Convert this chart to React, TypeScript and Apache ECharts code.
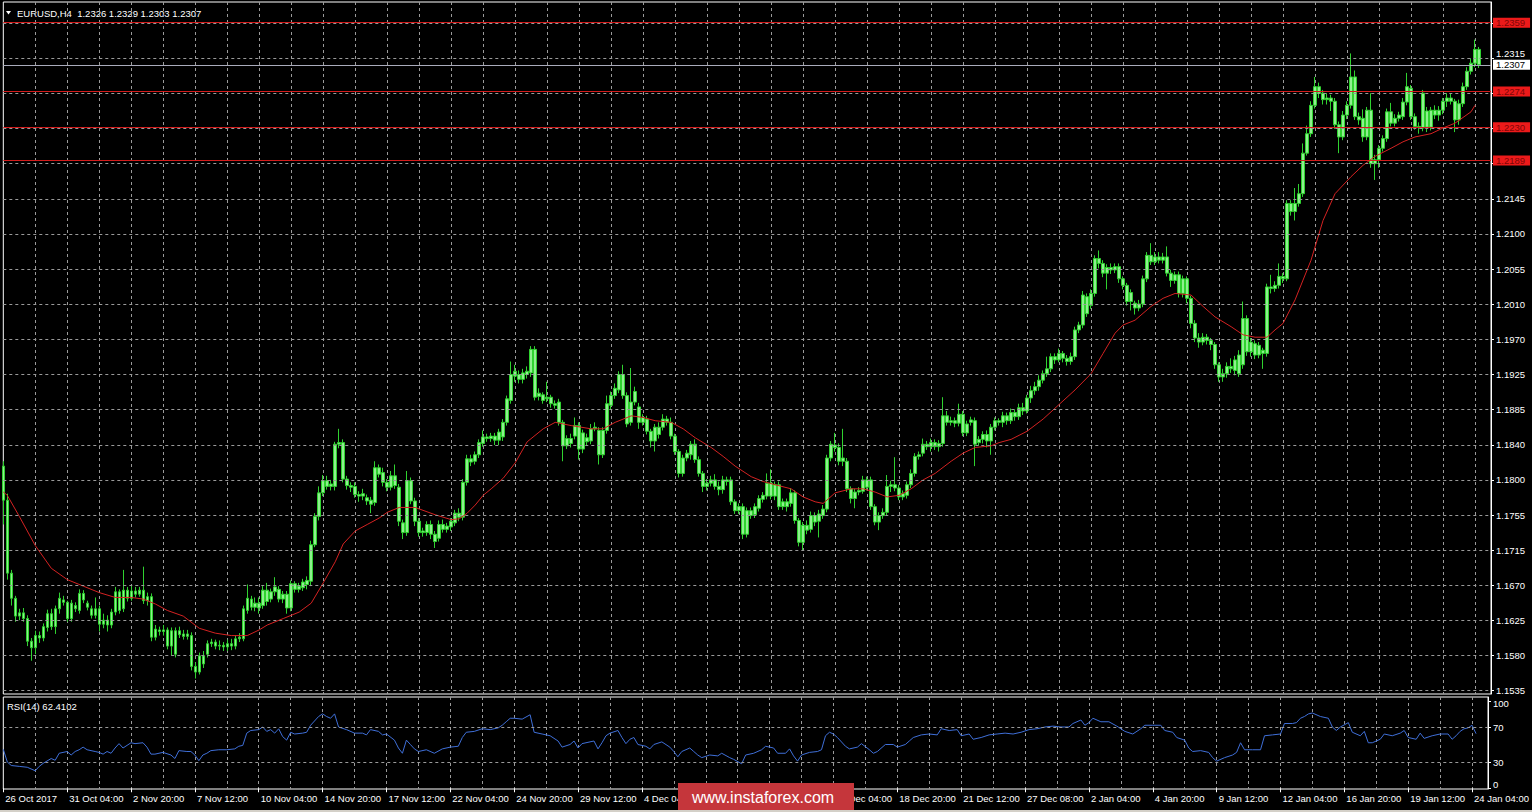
import { useEffect, useRef } from 'react';
import * as echarts from 'echarts';

// ---------- data ----------
const SYMBOL_HEADER = 'EURUSD,H4  1.2326 1.2329 1.2303 1.2307';
const RSI_HEADER = 'RSI(14) 62.4102';
const BASE = 1.1535; // bottom price grid line
const PRICE_STEP = 0.078 / 18;
const PRICE_TICK_LABELS = ['1.1535', '1.1580', '1.1625', '1.1670', '1.1715', '1.1755', '1.1800', '1.1840', '1.1885', '1.1925', '1.1970', '1.2010', '1.2055', '1.2100', '1.2145', '', '', '', '1.2315', ''];
const RSI_TICKS = [0, 30, 70, 100];
const RSI_LEVELS = [30, 70];
const LEVELS = [1.2359, 1.2274, 1.2230, 1.2189];
const LAST_PRICE = 1.2307;
// labels of 6 Dec 20:00 and 11 Dec 12:00 lie fully under the watermark in the reference
const X_TICK_LABELS = ['26 Oct 2017', '31 Oct 04:00', '2 Nov 20:00', '7 Nov 12:00', '10 Nov 04:00', '14 Nov 20:00', '17 Nov 12:00', '22 Nov 04:00', '24 Nov 20:00', '29 Nov 12:00', '4 Dec 04:00', '', '', '14 Dec 04:00', '18 Dec 20:00', '21 Dec 12:00', '27 Dec 08:00', '2 Jan 04:00', '4 Jan 20:00', '9 Jan 12:00', '12 Jan 04:00', '16 Jan 20:00', '19 Jan 12:00', '24 Jan 04:00'];

const OPEN = [
  1.1812, 1.1770, 1.1680, 1.1649, 1.1627, 1.1631, 1.1624, 1.1596, 1.1588, 1.1603,
  1.1600, 1.1613, 1.1630, 1.1614, 1.1636, 1.1647, 1.1644, 1.1624, 1.1640, 1.1634,
  1.1655, 1.1643, 1.1636, 1.1628, 1.1636, 1.1617, 1.1622, 1.1616, 1.1632, 1.1657,
  1.1636, 1.1659, 1.1649, 1.1658, 1.1654, 1.1659, 1.1646, 1.1651, 1.1601, 1.1610,
  1.1608, 1.1610, 1.1590, 1.1609, 1.1604, 1.1605, 1.1602, 1.1603, 1.1565, 1.1558,
  1.1578, 1.1580, 1.1593, 1.1595, 1.1590, 1.1591, 1.1589, 1.1593, 1.1590, 1.1599,
  1.1599, 1.1634, 1.1648, 1.1638, 1.1643, 1.1640, 1.1659, 1.1648, 1.1657, 1.1660,
  1.1648, 1.1654, 1.1637, 1.1667, 1.1660, 1.1662, 1.1666, 1.1670, 1.1715, 1.1750,
  1.1779, 1.1794, 1.1787, 1.1787, 1.1839, 1.1841, 1.1796, 1.1788, 1.1787, 1.1777,
  1.1775, 1.1773, 1.1770, 1.1767, 1.1810, 1.1804, 1.1792, 1.1786, 1.1800, 1.1786,
  1.1742, 1.1730, 1.1794, 1.1769, 1.1744, 1.1732, 1.1730, 1.1740, 1.1728, 1.1723,
  1.1740, 1.1734, 1.1737, 1.1742, 1.1754, 1.1749, 1.1792, 1.1821, 1.1818, 1.1826,
  1.1840, 1.1848, 1.1846, 1.1849, 1.1844, 1.1848, 1.1866, 1.1893, 1.1923, 1.1925,
  1.1919, 1.1925, 1.1927, 1.1956, 1.1898, 1.1900, 1.1895, 1.1897, 1.1889, 1.1891,
  1.1866, 1.1837, 1.1846, 1.1849, 1.1862, 1.1833, 1.1847, 1.1843, 1.1858, 1.1856,
  1.1826, 1.1856, 1.1887, 1.1899, 1.1906, 1.1925, 1.1899, 1.1866, 1.1891, 1.1885,
  1.1866, 1.1870, 1.1855, 1.1843, 1.1860, 1.1860, 1.1870, 1.1866, 1.1849, 1.1830,
  1.1803, 1.1822, 1.1826, 1.1839, 1.1820, 1.1803, 1.1787, 1.1791, 1.1795, 1.1787,
  1.1783, 1.1795, 1.1795, 1.1768, 1.1757, 1.1762, 1.1728, 1.1757, 1.1752, 1.1760,
  1.1771, 1.1775, 1.1791, 1.1775, 1.1789, 1.1762, 1.1768, 1.1766, 1.1779, 1.1745,
  1.1718, 1.1739, 1.1734, 1.1751, 1.1744, 1.1751, 1.1759, 1.1822, 1.1838, 1.1835,
  1.1818, 1.1818, 1.1784, 1.1772, 1.1780, 1.1781, 1.1795, 1.1795, 1.1762, 1.1743,
  1.1751, 1.1755, 1.1787, 1.1789, 1.1785, 1.1774, 1.1776, 1.1789, 1.1803, 1.1824,
  1.1828, 1.1839, 1.1836, 1.1841, 1.1836, 1.1840, 1.1874, 1.1866, 1.1868, 1.1865,
  1.1876, 1.1853, 1.1866, 1.1868, 1.1841, 1.1845, 1.1851, 1.1843, 1.1860, 1.1868,
  1.1866, 1.1874, 1.1868, 1.1878, 1.1873, 1.1884, 1.1880, 1.1896, 1.1905, 1.1910,
  1.1918, 1.1926, 1.1932, 1.1947, 1.1943, 1.1951, 1.1945, 1.1941, 1.1947, 1.1980,
  1.1986, 1.2021, 1.2010, 1.2025, 1.2068, 1.2062, 1.2050, 1.2057, 1.2054, 1.2058,
  1.2043, 1.2035, 1.2015, 1.2013, 1.2007, 1.2012, 1.2043, 1.2072, 1.2064, 1.2070,
  1.2066, 1.2070, 1.2050, 1.2041, 1.2048, 1.2025, 1.2043, 1.2019, 1.1988, 1.1970,
  1.1965, 1.1971, 1.1967, 1.1962, 1.1937, 1.1922, 1.1926, 1.1935, 1.1930, 1.1926,
  1.1937, 1.1994, 1.1953, 1.1963, 1.1949, 1.1955, 1.1951, 1.2033, 1.2031, 1.2035,
  1.2046, 1.2043, 1.2136, 1.2126, 1.2136, 1.2148, 1.2198, 1.2222, 1.2257, 1.2280,
  1.2272, 1.2264, 1.2266, 1.2262, 1.2233, 1.2218, 1.2245, 1.2257, 1.2292, 1.2243,
  1.2241, 1.2218, 1.2251, 1.2185, 1.2190, 1.2204, 1.2216, 1.2249, 1.2235, 1.2241,
  1.2243, 1.2261, 1.2278, 1.2243, 1.2231, 1.2229, 1.2250, 1.2230, 1.2251, 1.2245,
  1.2251, 1.2262, 1.2266, 1.2262, 1.2239, 1.2259, 1.2280, 1.2299, 1.2309, 1.2326,
];
const HIGH = [
  1.1818, 1.1778, 1.1684, 1.1652, 1.1636, 1.1637, 1.1628, 1.1600, 1.1609, 1.1608,
  1.1618, 1.1635, 1.1636, 1.1640, 1.1656, 1.1652, 1.1646, 1.1647, 1.1644, 1.1660,
  1.1659, 1.1646, 1.1640, 1.1650, 1.1640, 1.1630, 1.1628, 1.1636, 1.1663, 1.1660,
  1.1684, 1.1663, 1.1664, 1.1663, 1.1663, 1.1688, 1.1656, 1.1655, 1.1616, 1.1614,
  1.1616, 1.1613, 1.1613, 1.1613, 1.1614, 1.1610, 1.1610, 1.1607, 1.1570, 1.1582,
  1.1584, 1.1597, 1.1599, 1.1598, 1.1597, 1.1595, 1.1598, 1.1599, 1.1603, 1.1606,
  1.1640, 1.1666, 1.1652, 1.1650, 1.1650, 1.1664, 1.1668, 1.1661, 1.1675, 1.1664,
  1.1658, 1.1658, 1.1671, 1.1670, 1.1668, 1.1673, 1.1676, 1.1720, 1.1754, 1.1787,
  1.1801, 1.1800, 1.1795, 1.1842, 1.1858, 1.1845, 1.1800, 1.1792, 1.1792, 1.1781,
  1.1784, 1.1777, 1.1774, 1.1818, 1.1814, 1.1810, 1.1796, 1.1806, 1.1814, 1.1790,
  1.1746, 1.1806, 1.1798, 1.1773, 1.1748, 1.1736, 1.1744, 1.1745, 1.1732, 1.1745,
  1.1746, 1.1742, 1.1748, 1.1758, 1.1760, 1.1796, 1.1826, 1.1826, 1.1830, 1.1845,
  1.1856, 1.1852, 1.1853, 1.1853, 1.1858, 1.1870, 1.1899, 1.1941, 1.1937, 1.1930,
  1.1932, 1.1935, 1.1960, 1.1960, 1.1908, 1.1903, 1.1916, 1.1900, 1.1893, 1.1895,
  1.1869, 1.1850, 1.1852, 1.1872, 1.1866, 1.1857, 1.1852, 1.1864, 1.1866, 1.1860,
  1.1860, 1.1899, 1.1904, 1.1914, 1.1929, 1.1937, 1.1903, 1.1933, 1.1910, 1.1890,
  1.1876, 1.1874, 1.1858, 1.1864, 1.1866, 1.1876, 1.1874, 1.1872, 1.1852, 1.1833,
  1.1826, 1.1832, 1.1843, 1.1845, 1.1824, 1.1806, 1.1796, 1.1800, 1.1802, 1.1793,
  1.1800, 1.1799, 1.1799, 1.1771, 1.1766, 1.1766, 1.1761, 1.1761, 1.1766, 1.1776,
  1.1780, 1.1803, 1.1808, 1.1793, 1.1793, 1.1772, 1.1772, 1.1785, 1.1782, 1.1748,
  1.1743, 1.1745, 1.1756, 1.1755, 1.1758, 1.1764, 1.1826, 1.1843, 1.1853, 1.1840,
  1.1858, 1.1822, 1.1787, 1.1784, 1.1786, 1.1800, 1.1799, 1.1799, 1.1765, 1.1755,
  1.1760, 1.1801, 1.1794, 1.1823, 1.1789, 1.1782, 1.1793, 1.1808, 1.1828, 1.1830,
  1.1846, 1.1843, 1.1846, 1.1845, 1.1844, 1.1897, 1.1880, 1.1873, 1.1872, 1.1889,
  1.1880, 1.1868, 1.1873, 1.1872, 1.1849, 1.1855, 1.1856, 1.1864, 1.1872, 1.1871,
  1.1879, 1.1878, 1.1883, 1.1882, 1.1889, 1.1890, 1.1900, 1.1911, 1.1916, 1.1924,
  1.1930, 1.1947, 1.1951, 1.1951, 1.1957, 1.1954, 1.1949, 1.1952, 1.1984, 1.1990,
  1.2028, 1.2025, 1.2030, 1.2072, 1.2078, 1.2066, 1.2061, 1.2062, 1.2062, 1.2062,
  1.2046, 1.2038, 1.2030, 1.2016, 1.2017, 1.2047, 1.2076, 1.2087, 1.2076, 1.2076,
  1.2075, 1.2083, 1.2054, 1.2052, 1.2052, 1.2047, 1.2046, 1.2022, 1.1992, 1.1976,
  1.1976, 1.1975, 1.1970, 1.1965, 1.1940, 1.1932, 1.1940, 1.1945, 1.1948, 1.1955,
  1.2015, 1.1998, 1.1970, 1.1967, 1.1965, 1.1958, 1.2037, 1.2048, 1.2040, 1.2062,
  1.2050, 1.2140, 1.2140, 1.2155, 1.2160, 1.2210, 1.2232, 1.2262, 1.2292, 1.2285,
  1.2276, 1.2272, 1.2270, 1.2266, 1.2237, 1.2250, 1.2262, 1.2321, 1.2300, 1.2248,
  1.2252, 1.2255, 1.2272, 1.2196, 1.2208, 1.2220, 1.2253, 1.2260, 1.2246, 1.2249,
  1.2266, 1.2297, 1.2282, 1.2247, 1.2236, 1.2276, 1.2255, 1.2255, 1.2257, 1.2256,
  1.2266, 1.2272, 1.2272, 1.2265, 1.2264, 1.2285, 1.2304, 1.2315, 1.2338, 1.2329,
];
const LOW = [
  1.1740, 1.1672, 1.1640, 1.1620, 1.1622, 1.1620, 1.1590, 1.1572, 1.1580, 1.1594,
  1.1596, 1.1608, 1.1610, 1.1605, 1.1630, 1.1640, 1.1620, 1.1620, 1.1632, 1.1630,
  1.1643, 1.1634, 1.1624, 1.1624, 1.1608, 1.1612, 1.1608, 1.1612, 1.1628, 1.1630,
  1.1632, 1.1645, 1.1646, 1.1650, 1.1651, 1.1642, 1.1640, 1.1596, 1.1597, 1.1603,
  1.1603, 1.1586, 1.1578, 1.1576, 1.1600, 1.1598, 1.1598, 1.1560, 1.1550, 1.1555,
  1.1563, 1.1576, 1.1589, 1.1586, 1.1585, 1.1584, 1.1584, 1.1585, 1.1586, 1.1595,
  1.1596, 1.1630, 1.1634, 1.1633, 1.1630, 1.1636, 1.1640, 1.1644, 1.1652, 1.1644,
  1.1643, 1.1630, 1.1633, 1.1656, 1.1656, 1.1658, 1.1660, 1.1664, 1.1712, 1.1745,
  1.1775, 1.1783, 1.1782, 1.1782, 1.1834, 1.1792, 1.1783, 1.1780, 1.1773, 1.1768,
  1.1770, 1.1764, 1.1754, 1.1763, 1.1798, 1.1787, 1.1781, 1.1782, 1.1784, 1.1738,
  1.1722, 1.1726, 1.1765, 1.1738, 1.1725, 1.1725, 1.1726, 1.1722, 1.1711, 1.1719,
  1.1730, 1.1730, 1.1732, 1.1738, 1.1744, 1.1745, 1.1788, 1.1812, 1.1814, 1.1822,
  1.1836, 1.1842, 1.1842, 1.1838, 1.1838, 1.1843, 1.1862, 1.1889, 1.1916, 1.1914,
  1.1914, 1.1920, 1.1922, 1.1893, 1.1893, 1.1889, 1.1891, 1.1884, 1.1883, 1.1862,
  1.1818, 1.1833, 1.1835, 1.1845, 1.1820, 1.1828, 1.1838, 1.1839, 1.1855, 1.1814,
  1.1822, 1.1852, 1.1882, 1.1895, 1.1902, 1.1895, 1.1860, 1.1862, 1.1887, 1.1858,
  1.1862, 1.1851, 1.1835, 1.1830, 1.1846, 1.1856, 1.1862, 1.1845, 1.1826, 1.1798,
  1.1799, 1.1818, 1.1820, 1.1816, 1.1799, 1.1780, 1.1782, 1.1787, 1.1783, 1.1776,
  1.1778, 1.1788, 1.1764, 1.1753, 1.1753, 1.1722, 1.1724, 1.1747, 1.1748, 1.1756,
  1.1767, 1.1771, 1.1771, 1.1770, 1.1758, 1.1758, 1.1756, 1.1762, 1.1741, 1.1713,
  1.1708, 1.1728, 1.1730, 1.1738, 1.1724, 1.1747, 1.1755, 1.1818, 1.1830, 1.1813,
  1.1812, 1.1780, 1.1766, 1.1760, 1.1776, 1.1778, 1.1782, 1.1758, 1.1739, 1.1733,
  1.1747, 1.1751, 1.1780, 1.1781, 1.1770, 1.1770, 1.1772, 1.1785, 1.1799, 1.1820,
  1.1824, 1.1832, 1.1830, 1.1832, 1.1830, 1.1836, 1.1862, 1.1862, 1.1860, 1.1861,
  1.1849, 1.1849, 1.1862, 1.1812, 1.1837, 1.1840, 1.1835, 1.1826, 1.1856, 1.1862,
  1.1860, 1.1863, 1.1864, 1.1868, 1.1869, 1.1875, 1.1877, 1.1890, 1.1900, 1.1905,
  1.1914, 1.1922, 1.1928, 1.1938, 1.1940, 1.1940, 1.1936, 1.1937, 1.1943, 1.1976,
  1.1982, 1.1996, 1.2006, 1.2021, 1.2056, 1.2045, 1.2030, 1.2049, 1.2050, 1.2038,
  1.2030, 1.2010, 1.2004, 1.1999, 1.2003, 1.2008, 1.2039, 1.2060, 1.2060, 1.2062,
  1.2062, 1.2046, 1.2033, 1.2037, 1.2020, 1.2020, 1.2013, 1.1982, 1.1965, 1.1958,
  1.1961, 1.1962, 1.1955, 1.1932, 1.1916, 1.1916, 1.1921, 1.1927, 1.1924, 1.1922,
  1.1932, 1.1948, 1.1947, 1.1944, 1.1945, 1.1932, 1.1947, 1.2025, 1.2027, 1.2031,
  1.2038, 1.2040, 1.2121, 1.2115, 1.2132, 1.2144, 1.2195, 1.2218, 1.2253, 1.2266,
  1.2258, 1.2258, 1.2250, 1.2228, 1.2198, 1.2214, 1.2240, 1.2253, 1.2239, 1.2233,
  1.2212, 1.2214, 1.2180, 1.2165, 1.2180, 1.2200, 1.2212, 1.2231, 1.2231, 1.2237,
  1.2239, 1.2257, 1.2239, 1.2227, 1.2222, 1.2225, 1.2224, 1.2226, 1.2240, 1.2238,
  1.2246, 1.2255, 1.2258, 1.2224, 1.2233, 1.2255, 1.2276, 1.2295, 1.2304, 1.2303,
];
const CLOSE = [
  1.1770, 1.1680, 1.1649, 1.1627, 1.1631, 1.1624, 1.1596, 1.1588, 1.1603, 1.1600,
  1.1614, 1.1630, 1.1614, 1.1636, 1.1649, 1.1644, 1.1624, 1.1643, 1.1636, 1.1655,
  1.1647, 1.1638, 1.1628, 1.1636, 1.1617, 1.1622, 1.1616, 1.1632, 1.1657, 1.1634,
  1.1659, 1.1649, 1.1658, 1.1654, 1.1659, 1.1646, 1.1651, 1.1601, 1.1611, 1.1608,
  1.1610, 1.1590, 1.1609, 1.1580, 1.1609, 1.1602, 1.1605, 1.1565, 1.1558, 1.1578,
  1.1568, 1.1593, 1.1595, 1.1590, 1.1591, 1.1589, 1.1593, 1.1590, 1.1599, 1.1601,
  1.1636, 1.1649, 1.1638, 1.1643, 1.1637, 1.1659, 1.1645, 1.1657, 1.1663, 1.1648,
  1.1654, 1.1637, 1.1667, 1.1660, 1.1664, 1.1669, 1.1671, 1.1715, 1.1750, 1.1779,
  1.1794, 1.1787, 1.1790, 1.1839, 1.1841, 1.1796, 1.1788, 1.1786, 1.1777, 1.1775,
  1.1778, 1.1769, 1.1765, 1.1810, 1.1802, 1.1792, 1.1786, 1.1800, 1.1788, 1.1744,
  1.1730, 1.1794, 1.1769, 1.1744, 1.1730, 1.1730, 1.1740, 1.1728, 1.1719, 1.1740,
  1.1734, 1.1738, 1.1744, 1.1754, 1.1749, 1.1792, 1.1821, 1.1817, 1.1826, 1.1841,
  1.1848, 1.1846, 1.1849, 1.1844, 1.1854, 1.1866, 1.1895, 1.1925, 1.1929, 1.1919,
  1.1927, 1.1929, 1.1956, 1.1897, 1.1902, 1.1893, 1.1897, 1.1889, 1.1887, 1.1866,
  1.1837, 1.1846, 1.1840, 1.1862, 1.1833, 1.1853, 1.1842, 1.1858, 1.1860, 1.1826,
  1.1856, 1.1889, 1.1899, 1.1908, 1.1925, 1.1899, 1.1864, 1.1891, 1.1904, 1.1866,
  1.1872, 1.1855, 1.1843, 1.1860, 1.1851, 1.1870, 1.1866, 1.1849, 1.1830, 1.1803,
  1.1822, 1.1828, 1.1839, 1.1820, 1.1803, 1.1787, 1.1791, 1.1795, 1.1787, 1.1783,
  1.1795, 1.1793, 1.1768, 1.1757, 1.1762, 1.1728, 1.1757, 1.1751, 1.1762, 1.1772,
  1.1776, 1.1791, 1.1775, 1.1789, 1.1762, 1.1768, 1.1762, 1.1779, 1.1745, 1.1718,
  1.1739, 1.1733, 1.1751, 1.1743, 1.1753, 1.1759, 1.1822, 1.1839, 1.1835, 1.1818,
  1.1822, 1.1784, 1.1772, 1.1780, 1.1782, 1.1795, 1.1786, 1.1762, 1.1743, 1.1751,
  1.1755, 1.1787, 1.1789, 1.1785, 1.1774, 1.1778, 1.1789, 1.1803, 1.1824, 1.1826,
  1.1839, 1.1836, 1.1841, 1.1836, 1.1840, 1.1874, 1.1866, 1.1868, 1.1865, 1.1876,
  1.1853, 1.1864, 1.1869, 1.1839, 1.1845, 1.1851, 1.1843, 1.1860, 1.1868, 1.1866,
  1.1874, 1.1868, 1.1878, 1.1873, 1.1884, 1.1880, 1.1896, 1.1905, 1.1910, 1.1918,
  1.1926, 1.1932, 1.1947, 1.1943, 1.1951, 1.1945, 1.1941, 1.1947, 1.1980, 1.1986,
  1.2023, 1.2000, 1.2025, 1.2068, 1.2062, 1.2050, 1.2057, 1.2054, 1.2058, 1.2043,
  1.2035, 1.2015, 1.2026, 1.2007, 1.2012, 1.2043, 1.2072, 1.2064, 1.2070, 1.2066,
  1.2070, 1.2050, 1.2041, 1.2048, 1.2025, 1.2043, 1.2019, 1.1988, 1.1970, 1.1965,
  1.1971, 1.1967, 1.1962, 1.1937, 1.1922, 1.1926, 1.1935, 1.1932, 1.1943, 1.1949,
  1.1994, 1.1953, 1.1965, 1.1949, 1.1961, 1.1951, 1.2033, 1.2031, 1.2035, 1.2046,
  1.2043, 1.2136, 1.2126, 1.2136, 1.2148, 1.2198, 1.2222, 1.2257, 1.2280, 1.2272,
  1.2264, 1.2266, 1.2262, 1.2233, 1.2218, 1.2245, 1.2257, 1.2292, 1.2243, 1.2239,
  1.2218, 1.2251, 1.2185, 1.2190, 1.2204, 1.2216, 1.2249, 1.2235, 1.2241, 1.2245,
  1.2261, 1.2280, 1.2243, 1.2231, 1.2230, 1.2272, 1.2230, 1.2251, 1.2245, 1.2251,
  1.2262, 1.2266, 1.2262, 1.2239, 1.2259, 1.2280, 1.2299, 1.2309, 1.2326, 1.2307,
];

// moving average as [bar, price]
const MA_POINTS: [number, number][] = [
  [0, 1.1780], [1, 1.1776], [4, 1.1750], [8, 1.1714], [12, 1.1686], [16, 1.1672], [20, 1.1664], [24, 1.1656],
  [28, 1.1650], [32, 1.1650], [35, 1.1648], [38, 1.1642], [41, 1.1634], [45, 1.1627], [49, 1.1612], [53, 1.1606],
  [57, 1.1603], [61, 1.1603], [64, 1.1610], [66, 1.1616], [70, 1.1624], [74, 1.1632], [77, 1.1643], [80, 1.1668],
  [83, 1.1694], [85, 1.1716], [88, 1.1732], [91, 1.1740], [94, 1.1748], [96, 1.1755], [99, 1.1761], [103, 1.1761],
  [108, 1.1752], [112, 1.1746], [114, 1.1747], [116, 1.1754], [118, 1.1764], [120, 1.1776], [122, 1.1784], [125, 1.1797],
  [128, 1.1816], [131, 1.1842], [135, 1.1858], [138, 1.1866], [142, 1.1862], [147, 1.1858], [150, 1.1858], [153, 1.1866],
  [157, 1.1874], [160, 1.1872], [163, 1.1868], [167, 1.1866], [170, 1.1858], [173, 1.1847], [177, 1.1835], [180, 1.1824],
  [183, 1.1812], [187, 1.1799], [190, 1.1793], [193, 1.1789], [197, 1.1784], [200, 1.1774], [203, 1.1768], [205, 1.1766],
  [208, 1.1779], [212, 1.1784], [215, 1.1784], [218, 1.1780], [221, 1.1774], [224, 1.1776], [227, 1.1784], [230, 1.1795],
  [233, 1.1803], [237, 1.1818], [240, 1.1828], [243, 1.1835], [247, 1.1837], [249, 1.1841], [252, 1.1845], [256, 1.1855],
  [260, 1.1870], [264, 1.1888], [268, 1.1906], [272, 1.1926], [275, 1.1951], [278, 1.1976], [280, 1.1986], [283, 1.1992],
  [287, 1.2009], [290, 1.2019], [293, 1.2025], [297, 1.2023], [300, 1.2009], [303, 1.1996], [307, 1.1984], [310, 1.1974],
  [313, 1.1971], [316, 1.1971], [318, 1.1980], [320, 1.1988], [323, 1.2017], [327, 1.2066], [330, 1.2115], [333, 1.2148],
  [337, 1.2169], [340, 1.2183], [343, 1.2194], [347, 1.2204], [350, 1.2212], [353, 1.2218], [357, 1.2222], [360, 1.2229],
  [363, 1.2235], [367, 1.2249], [368, 1.2257],
];

// RSI(14) as [bar, value]
const RSI_POINTS: [number, number][] = [
  [0, 44.5], [1, 30], [2, 26], [4, 25], [6, 24], [8, 20], [9, 25], [10, 28.5], [12, 34], [13, 32], [14, 40], [16, 42],
  [17, 38], [18, 42], [19, 44], [20, 47], [21, 44], [23, 42], [24, 41], [25, 39], [26, 42], [27, 40], [28, 46], [29, 51],
  [30, 46], [31, 49], [32, 52], [33, 51], [35, 52], [36, 47], [37, 39], [38, 39], [40, 41], [42, 38], [43, 34], [44, 43],
  [46, 42], [47, 42], [48, 38], [49, 31.5], [50, 38], [51, 40], [52, 43], [54, 44], [56, 44], [58, 45], [59, 48], [60, 49],
  [61, 63], [62, 66], [64, 67], [65, 70], [66, 65], [67, 67], [68, 63], [69, 68], [70, 59], [71, 55], [72, 64], [73, 62],
  [75, 63], [76, 64], [77, 72], [79, 82], [80, 85], [81, 82], [82, 80], [83, 85], [84, 70], [86, 67], [88, 63], [90, 63],
  [91, 61], [92, 67], [94, 65], [95, 61], [96, 62], [98, 55], [99, 46], [100, 40], [101, 55], [102, 50], [103, 45], [104, 42],
  [106, 44], [108, 40], [110, 45], [112, 47], [114, 48], [115, 58], [116, 64], [118, 65], [120, 68], [122, 67], [124, 69],
  [125, 72], [126, 76], [127, 80], [128, 80], [130, 79], [132, 84], [133, 64], [135, 62], [137, 60], [139, 54], [140, 47],
  [142, 50], [143, 54], [144, 46], [145, 51], [147, 53], [148, 54], [149, 45], [150, 52], [151, 60], [152, 63], [154, 66],
  [155, 58], [156, 51], [157, 56], [158, 58], [159, 50], [161, 48], [162, 45], [163, 50], [165, 53], [167, 47], [168, 42],
  [169, 36], [170, 42], [172, 46], [173, 42], [174, 38], [175, 35], [177, 38], [179, 37], [180, 40], [182, 35], [183, 33],
  [185, 28], [186, 38], [188, 40], [190, 44], [191, 48], [193, 46], [194, 40], [196, 40], [197, 45], [198, 37], [199, 31],
  [200, 38], [202, 41], [204, 42], [205, 44], [206, 60], [207, 64], [208, 62], [209, 58], [211, 48], [212, 45], [214, 47],
  [215, 51], [217, 44], [218, 40], [219, 42], [221, 50], [223, 50], [224, 47], [226, 50], [227, 54], [228, 58], [230, 61],
  [232, 62], [234, 61], [235, 68], [237, 66], [239, 67], [240, 60], [242, 62], [243, 56], [245, 58], [247, 61], [249, 62],
  [251, 63], [253, 62], [255, 64], [257, 67], [259, 68], [261, 70], [263, 71], [265, 70], [267, 70], [268, 74], [270, 78],
  [271, 72], [272, 75], [273, 80], [275, 76], [277, 76], [279, 71], [281, 65], [283, 62], [285, 68], [286, 72], [288, 72],
  [290, 72], [291, 66], [293, 64], [294, 58], [296, 55], [297, 46], [298, 42], [300, 43], [302, 41], [303, 35], [304, 31],
  [306, 35], [308, 38], [309, 41], [310, 52], [311, 44], [313, 44], [315, 44], [316, 60], [318, 61], [320, 62], [321, 74],
  [323, 74], [324, 75], [325, 80], [326, 82], [327, 85], [328, 86], [330, 82], [332, 80], [333, 70], [334, 66], [335, 70],
  [337, 75], [338, 64], [340, 60], [341, 65], [342, 52], [343, 52], [345, 56], [346, 62], [348, 60], [350, 63], [351, 66],
  [352, 58], [354, 56], [355, 63], [356, 57], [358, 60], [360, 62], [362, 62], [363, 56], [364, 60], [365, 65], [366, 68],
  [367, 69], [368, 72], [369, 62.41],
];

// ---------- layout ----------
const N_CAT = 373;
const FONT = "'Liberation Sans', Arial, sans-serif";
const GRID_LEFT = 3.3;
const GRID_WIDTH = 1487.7;
const MAIN_TOP = 2;
const MAIN_HEIGHT = 692;
const PX_PER_PRICE = 632.4 / 0.078;
const MAIN_MIN = -(694 - 690.7) / PX_PER_PRICE;
const MAIN_MAX = (690.7 - MAIN_TOP) / PX_PER_PRICE;
const RSI_TOP = 697;
const RSI_HEIGHT = 92;
const RSI_PX = 0.875;
const RSI_MIN = -(789 - 788.25) / RSI_PX;
const RSI_MAX = 100 + (700.75 - 697) / RSI_PX;

const GRID_LINE = { color: '#9a9a9a', type: [3, 3] as number[], width: 1 };
const WHITE = '#ffffff';

export default function App() {
  const ref = useRef<HTMLDivElement>(null);
  useEffect(() => {
    if (!ref.current) return;
    const chart = echarts.init(ref.current, null, { renderer: 'svg' });
    const n = Math.min(OPEN.length, HIGH.length, LOW.length, CLOSE.length);
    const cats = Array.from({ length: N_CAT }, (_, i) => String(i));
    const candles = [];
    for (let i = 0; i < n; i++) {
      candles.push([OPEN[i] - BASE, CLOSE[i] - BASE, LOW[i] - BASE, HIGH[i] - BASE]);
    }
    // price grid positions: one per tick label, in offsets from BASE
    const priceTicks = PRICE_TICK_LABELS.map((_, k) => k * PRICE_STEP);
    const lastLabelIdx = PRICE_TICK_LABELS.indexOf('1.2315');
    const xBase = {
      type: 'category',
      data: cats,
      boundaryGap: false,
      axisLine: { show: false },
      splitLine: { show: true, interval: (i: number) => i > 0 && i % 8 === 0, lineStyle: GRID_LINE },
    };
    const markLevels = [
      ...LEVELS.map((v) => ({
        yAxis: v - BASE,
        lineStyle: { color: '#d41c1c', width: 1, type: 'solid' },
        label: { formatter: v.toFixed(4), backgroundColor: '#ec1a1a', color: '#7e0606' },
      })),
      {
        yAxis: LAST_PRICE - BASE,
        lineStyle: { color: '#a9abbb', width: 1, type: 'solid' },
        label: { formatter: LAST_PRICE.toFixed(4), backgroundColor: '#ffffff', color: '#000000' },
      },
    ];
    chart.setOption({
      animation: false,
      backgroundColor: '#000000',
      textStyle: { fontFamily: FONT },
      grid: [
        { left: GRID_LEFT, top: MAIN_TOP, width: GRID_WIDTH, height: MAIN_HEIGHT, show: true, borderColor: WHITE, borderWidth: 1, backgroundColor: 'transparent' },
        { left: GRID_LEFT, top: RSI_TOP, width: GRID_WIDTH, height: RSI_HEIGHT, show: true, borderColor: WHITE, borderWidth: 1, backgroundColor: 'transparent' },
      ],
      xAxis: [
        { ...xBase, gridIndex: 0, axisTick: { show: false }, axisLabel: { show: false } },
        {
          ...xBase,
          gridIndex: 1,
          axisTick: { show: true, interval: (i: number) => i % 16 === 0, length: 4, lineStyle: { color: WHITE } },
          axisLabel: {
            show: true,
            interval: (i: number) => i % 16 === 0,
            formatter: (_v: string, i: number) => X_TICK_LABELS[i / 16] ?? '',
            align: 'left',
            padding: [0, 0, 0, 2],
            margin: 4,
            color: WHITE,
            fontSize: 9.5,
            fontFamily: FONT,
          },
        },
      ],
      yAxis: [
        {
          type: 'value',
          gridIndex: 0,
          position: 'right',
          min: MAIN_MIN,
          max: MAIN_MAX,
          axisLine: { show: true, lineStyle: { color: WHITE } },
          axisTick: { show: true, length: 3, customValues: priceTicks, lineStyle: { color: WHITE } },
          axisLabel: {
            customValues: priceTicks,
            margin: 5,
            color: WHITE,
            fontSize: 9.5,
            fontFamily: FONT,
            formatter: (v: number) => {
              const k = Math.round(v / PRICE_STEP);
              const t = PRICE_TICK_LABELS[k] ?? '';
              // the top label sits just above the last-price box, as in the reference
              return k === lastLabelIdx && t ? `{up|${t}}` : t;
            },
            rich: { up: { padding: [0, 0, 9, 0], fontSize: 9.5, fontFamily: FONT, color: WHITE } },
          },
          splitLine: { show: false },
        },
        {
          type: 'value',
          gridIndex: 1,
          position: 'right',
          min: RSI_MIN,
          max: RSI_MAX,
          axisLine: { show: true, lineStyle: { color: WHITE } },
          axisTick: { show: true, length: 3, customValues: RSI_TICKS, lineStyle: { color: WHITE } },
          axisLabel: {
            customValues: RSI_TICKS,
            margin: 5,
            color: WHITE,
            fontSize: 9.5,
            fontFamily: FONT,
            formatter: (v: number) => (v >= 100 ? `{dn|${v}}` : v <= 0 ? `{up|${v}}` : String(v)),
            rich: {
              dn: { padding: [6, 0, 0, 0], fontSize: 9.5, fontFamily: FONT, color: WHITE },
              up: { padding: [0, 0, 8, 0], fontSize: 9.5, fontFamily: FONT, color: WHITE },
            },
          },
          splitLine: { show: false },
        },
      ],
      series: [
        {
          // horizontal price grid lines, drawn under the candles
          type: 'line',
          xAxisIndex: 0,
          yAxisIndex: 0,
          data: [],
          z: 1,
          markLine: {
            silent: true,
            precision: 8,
            symbol: ['none', 'none'],
            label: { show: false },
            lineStyle: GRID_LINE,
            data: priceTicks.map((v) => ({ yAxis: v })),
          },
        },
        {
          type: 'candlestick',
          xAxisIndex: 0,
          yAxisIndex: 0,
          data: candles,
          barWidth: 3,
          z: 2,
          itemStyle: { color: '#8ef08e', color0: '#8ef08e', borderColor: '#2fd22f', borderColor0: '#2fd22f', borderWidth: 1 },
          markLine: {
            silent: true,
            precision: 8,
            symbol: ['none', 'none'],
            label: { show: true, position: 'end', distance: 2, padding: [0, 5, 0, 3], fontSize: 9.5, fontFamily: FONT, lineHeight: 10 },
            data: markLevels,
          },
        },
        {
          type: 'line',
          xAxisIndex: 0,
          yAxisIndex: 0,
          data: MA_POINTS.map(([i, v]) => [i, v - BASE]),
          showSymbol: false,
          lineStyle: { color: '#d42222', width: 1 },
          z: 3,
        },
        {
          type: 'line',
          xAxisIndex: 1,
          yAxisIndex: 1,
          data: RSI_POINTS,
          showSymbol: false,
          lineStyle: { color: '#3f6fd8', width: 1 },
          markLine: {
            silent: true,
            symbol: ['none', 'none'],
            label: { show: false },
            lineStyle: GRID_LINE,
            data: RSI_LEVELS.map((v) => ({ yAxis: v })),
          },
        },
      ],
      graphic: [
        { type: 'polygon', shape: { points: [[6, 11], [11, 11], [8.5, 14.5]] }, style: { fill: WHITE } },
        { type: 'text', x: 17, y: 13, style: { text: SYMBOL_HEADER, fill: WHITE, fontSize: 9.5, fontFamily: FONT, verticalAlign: 'middle' } },
        { type: 'text', x: 7, y: 706.5, style: { text: RSI_HEADER, fill: WHITE, fontSize: 9.5, fontFamily: FONT, verticalAlign: 'middle' } },
        { type: 'rect', shape: { x: 678, y: 783, width: 176, height: 28 }, style: { fill: '#c5363b' }, z: 100 },
        { type: 'text', x: 763, y: 797, style: { text: 'www.instaforex.com', fill: WHITE, fontSize: 16, fontFamily: FONT, align: 'center', verticalAlign: 'middle' }, z: 101 },
        { type: 'rect', shape: { x: 0, y: 810, width: 1532, height: 2 }, style: { fill: '#d4d0c8' }, z: 100 },
      ],
    });
    return () => chart.dispose();
  }, []);
  return <div ref={ref} style={{ position: 'fixed', left: 0, top: 0, width: 1532, height: 812, background: '#000' }} />;
}
